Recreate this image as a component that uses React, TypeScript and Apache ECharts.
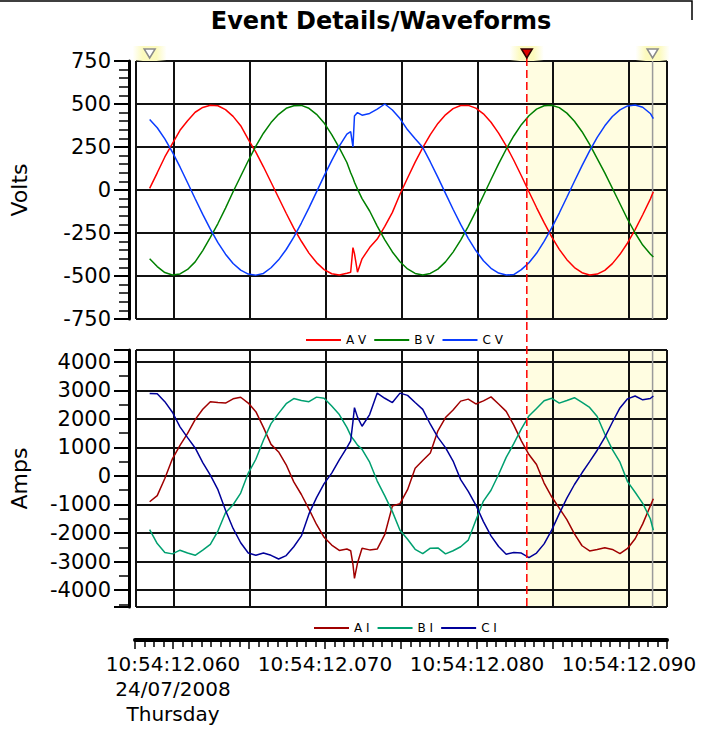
import React, { useEffect, useRef } from "react";
import * as echarts from "echarts";

// time in milliseconds after 10:54:12.000
const times = [
  58.4, 58.9, 59.4, 59.9, 60.4, 60.9, 61.4, 61.9, 62.4, 62.9,
  63.4, 63.9, 64.4, 64.9, 65.4, 65.9, 66.4, 66.9, 67.4, 67.9,
  68.4, 68.9, 69.4, 69.9, 70.4, 70.9, 71.4, 71.65, 71.8, 71.9,
  72.1, 72.4, 72.9, 73.4, 73.9, 74.4, 74.9, 75.4, 75.9, 76.4,
  76.9, 77.4, 77.9, 78.4, 78.9, 79.4, 79.9, 80.4, 80.9, 81.4,
  81.9, 82.4, 82.9, 83.4, 83.9, 84.4, 84.9, 85.4, 85.9, 86.4,
  86.9, 87.4, 87.9, 88.4, 88.9, 89.4, 89.9, 90.4, 90.9, 91.4,
  91.6,
];

const voltsA = [
  9, 100, 192, 270, 347, 403, 452, 480, 493, 490,
  467, 428, 374, 295, 220, 135, 45, -45, -135, -222,
  -298, -367, -422, -463, -487, -494, -484, -478, -335, -370,
  -478, -400, -335, -285, -212, -130, -25, 70, 162, 246,
  322, 387, 437, 473, 491, 492, 476, 443, 394, 331,
  257, 173, 83, -10, -102, -190, -273, -345, -405, -451,
  -481, -494, -489, -467, -428, -374, -308, -230, -144, -53,
  -10,
];
const voltsB = [
  -400, -445, -480, -494, -488, -462, -418, -352, -275, -195,
  -105, -10, 80, 170, 255, 330, 392, 440, 475, 490,
  492, 475, 440, 390, 322, 245, 160, 100, 70, 45,
  5, -50, -122, -210, -290, -360, -417, -459, -485, -494,
  -485, -460, -418, -361, -291, -211, -124, -32, 61, 152,
  237, 314, 380, 432, 470, 490, 493, 479, 447, 400,
  339, 265, 183, 100, 10, -80, -170, -250, -320, -372,
  -390,
];
const voltsC = [
  410, 362, 297, 220, 134, 42, -51, -142, -228, -306,
  -373, -427, -466, -489, -495, -485, -452, -406, -346, -274,
  -192, -104, -11, 82, 171, 255, 325, 340, 250, 430,
  450, 435, 445, 470, 500, 465, 415, 350, 298, 248,
  163, 73, -20, -112, -200, -281, -352, -411, -455, -483,
  -494, -492, -463, -423, -368, -299, -220, -134, -42, 51,
  142, 228, 306, 373, 427, 466, 489, 494, 481, 445,
  415,
];
const ampsA = [
  -905, -690, -90, 600, 1070, 1490, 1970, 2336, 2600, 2570,
  2550, 2700, 2755, 2550, 2250, 1700, 1105, 840, 390, -210,
  -650, -1160, -1700, -2150, -2420, -2610, -2560, -2620, -3100, -3590,
  -3050, -2530, -2590, -2560, -2050, -1050, -970, -480, 270, 540,
  800, 1580, 2044, 2310, 2620, 2690, 2520, 2630, 2770, 2520,
  2260, 1780, 1230, 750, 400, -250, -730, -1130, -1530, -2030,
  -2445, -2625, -2580, -2515, -2575, -2720, -2540, -2200, -1680, -1050,
  -800,
];
const ampsB = [
  -1880, -2370, -2680, -2730, -2600, -2700, -2780, -2600, -2400, -1930,
  -1290, -1010, -600, 100, 584, 1250, 1830, 2190, 2530, 2710,
  2640, 2600, 2760, 2720, 2450, 2150, 1700, 1420, 1300, 1230,
  1080, 930, 480, -180, -700, -1250, -1900, -2220, -2570, -2720,
  -2530, -2520, -2730, -2620, -2480, -2250, -1550, -880, -500, 50,
  650, 1130, 1650, 2100, 2360, 2630, 2720, 2550, 2640, 2740,
  2575, 2400, 2080, 1470, 920, 480, -200, -570, -960, -1500,
  -1900,
];
const ampsC = [
  2885, 2880, 2600, 2230, 1720, 1340, 980, 467, 25, -480,
  -1200, -1840, -2340, -2700, -2780, -2700, -2780, -2910, -2790, -2480,
  -2100, -1330, -760, -270, 100, 560, 990, 1230, 1900, 2390,
  2060, 1740, 2150, 2900, 2720, 2570, 2900, 2820, 2570, 2330,
  1810, 1350, 990, 520, -130, -540, -1020, -1600, -2100, -2470,
  -2740, -2680, -2700, -2860, -2700, -2380, -1900, -1320, -780, -300,
  110, 500, 900, 1350, 1880, 2380, 2700, 2800, 2665, 2710,
  2800,
];

const voltNames = ["A V", "B V", "C V"];
const ampNames = ["A I", "B I", "C I"];
const voltColors = ["#ff0000", "#008000", "#0a3cff"];
const ampColors = ["#a00000", "#00a070", "#000099"];

const voltAxis = { min: -750, max: 750, step: 250 };
const ampAxis = { min: -4590, max: 4410, step: 1000 };
const timeAxis = { min: 57.5, max: 92.5, step: 5 };
const labelTimes = [60, 70, 80, 90];
const clockPrefix = "10:54:12";
const dateText = "24/07/2008";
const dayText = "Thursday";

const startCursor = 58.4;
const cursorTime = 83.26;
const endCursor = 91.55;

const FONT = "DejaVu Sans";

function pairs(values: number[]) {
  return times.map((t, i) => [t, values[i]]);
}

function timeLabel(v: number) {
  const hit = labelTimes.find((t) => Math.abs(t - v) < 1e-6);
  if (hit === undefined) return "";
  const txt = clockPrefix + (hit / 1000).toFixed(3).slice(1);
  if (hit === labelTimes[0]) return txt + "\n" + dateText + "\n" + dayText;
  return txt;
}

export default function App() {
  const ref = useRef<HTMLDivElement>(null);

  useEffect(() => {
    if (!ref.current) return;
    const chart = echarts.init(ref.current, undefined, { renderer: "svg" });

    const gridLine = { show: true, lineStyle: { color: "#111", width: 2 } };
    const plotX = (gridIndex: number) => ({
      type: "value",
      gridIndex,
      min: timeAxis.min,
      max: timeAxis.max,
      minInterval: timeAxis.step,
      maxInterval: timeAxis.step,
      splitNumber: 7,
      axisLine: { show: false },
      axisTick: { show: false },
      axisLabel: { show: false },
      splitLine: gridLine,
    });
    const leftY = (gridIndex: number, ax: any, name: string, minorSplit: number, extra: any) => ({
      type: "value",
      gridIndex,
      min: ax.min,
      max: ax.max,
      ...extra,
      offset: 7,
      name,
      nameLocation: "middle",
      nameRotate: 90,
      nameGap: 99,
      nameTextStyle: { fontSize: 22, color: "#000", fontFamily: FONT },
      axisLine: { show: true, lineStyle: { color: "#000", width: 3 } },
      axisTick: { show: true, length: 15, lineStyle: { color: "#000", width: 2 } },
      minorTick: { show: true, splitNumber: minorSplit, length: 10, lineStyle: { color: "#000", width: 1.5 } },
      axisLabel: {
        fontSize: 21,
        color: "#000",
        margin: 18,
        fontFamily: FONT,
        formatter: (v: number) => String(v),
        showMinLabel: extra.interval ? true : false,
        showMaxLabel: extra.interval ? true : false,
      },
      splitLine: gridLine,
    });

    const lineSeries = (name: string, values: number[], color: string, idx: number) => ({
      type: "line",
      name,
      xAxisIndex: idx,
      yAxisIndex: idx,
      data: pairs(values),
      showSymbol: false,
      symbol: "none",
      lineStyle: { color, width: 1.5 },
      itemStyle: { color },
      z: 3,
    });

    const legendBase = {
      icon: "rect",
      itemWidth: 35,
      itemHeight: 2,
      itemGap: 8,
      textStyle: { fontSize: 12, color: "#000", fontFamily: FONT },
      selectedMode: false,
    };

    chart.setOption({
      animation: false,
      textStyle: { fontFamily: FONT },
      title: {
        text: "Event Details/Waveforms",
        left: 376,
        top: 4,
        textAlign: "center",
        textStyle: { fontSize: 24, fontWeight: "bold", color: "#000", fontFamily: FONT },
      },
      legend: [
        { ...legendBase, data: voltNames, left: 301, top: 329 },
        { ...legendBase, data: ampNames, left: 309, top: 617 },
      ],
      grid: [
        { left: 135, top: 61, width: 532, height: 258 },
        { left: 135, top: 350, width: 532, height: 257 },
        { left: 135, top: 639, width: 532, height: 1 },
      ],
      xAxis: [
        plotX(0),
        plotX(1),
        {
          type: "value",
          gridIndex: 2,
          position: "bottom",
          min: timeAxis.min,
          max: timeAxis.max,
          minInterval: timeAxis.step,
          maxInterval: timeAxis.step,
          splitNumber: 7,
          axisLine: { show: true, lineStyle: { color: "#000", width: 4 } },
          axisTick: { show: true, length: 9, lineStyle: { color: "#000", width: 1.5 } },
          minorTick: { show: true, splitNumber: 8, length: 7, lineStyle: { color: "#000", width: 1.5 } },
          splitLine: { show: false },
          axisLabel: {
            formatter: timeLabel,
            fontSize: 20,
            lineHeight: 25,
            margin: 11,
            color: "#000",
            fontFamily: FONT,
            showMinLabel: false,
            showMaxLabel: false,
          },
        },
      ],
      yAxis: [
        leftY(0, voltAxis, "Volts", 5, { interval: voltAxis.step }),
        leftY(1, ampAxis, "Amps", 2, { minInterval: ampAxis.step, maxInterval: ampAxis.step, splitNumber: 9 }),
        { type: "value", gridIndex: 2, min: 0, max: 1, show: false },
      ],
      series: [
        ...voltNames.map((n, i) => lineSeries(n, [voltsA, voltsB, voltsC][i], voltColors[i], 0)),
        ...ampNames.map((n, i) => lineSeries(n, [ampsA, ampsB, ampsC][i], ampColors[i], 1)),
      ],
    });

    const xOf = (t: number) => chart.convertToPixel({ xAxisIndex: 0 }, t) as number;
    const yV = (v: number) => chart.convertToPixel({ yAxisIndex: 0 }, v) as number;
    const yA = (v: number) => chart.convertToPixel({ yAxisIndex: 1 }, v) as number;
    const plots = [
      { top: yV(voltAxis.max), bottom: yV(voltAxis.min) },
      { top: yA(ampAxis.max), bottom: yA(ampAxis.min) },
    ];
    const xc = xOf(cursorTime);
    const xe = xOf(endCursor);
    const xs = xOf(startCursor);
    const xRight = xOf(timeAxis.max);

    const graphics: any[] = [];
    // page frame edge at the very top
    graphics.push({
      type: "polyline",
      silent: true,
      shape: { points: [[0, 1], [692, 1], [692, 20]] },
      style: { stroke: "#000", lineWidth: 1.5, fill: "none" },
    });
    plots.forEach((p) => {
      graphics.push({
        type: "rect",
        z: -1,
        silent: true,
        shape: { x: xc, y: p.top, width: xRight - xc, height: p.bottom - p.top },
        style: { fill: "#fffde1" },
      });
      graphics.push({
        type: "line",
        z: 1,
        silent: true,
        shape: { x1: xe, y1: p.top, x2: xe, y2: p.bottom },
        style: { stroke: "#9a9a9a", lineWidth: 1.5 },
      });
    });
    const markerTop = plots[0].top - 15;
    [xs, xc, xe].forEach((x, i) => {
      graphics.push({
        type: "rect",
        z: 1,
        silent: true,
        shape: { x: x - 17, y: markerTop, width: 34, height: 15 },
        style: {
          fill: new echarts.graphic.LinearGradient(0, 0, 1, 0, [
            { offset: 0, color: "rgba(252,250,190,0)" },
            { offset: 0.3, color: "rgba(252,250,190,1)" },
            { offset: 0.7, color: "rgba(252,250,190,1)" },
            { offset: 1, color: "rgba(252,250,190,0)" },
          ]),
        },
      });
      const isCursor = i === 1;
      graphics.push({
        type: "polygon",
        z: 6,
        silent: true,
        shape: {
          points: [
            [x - 5.5, markerTop + 3],
            [x + 5.5, markerTop + 3],
            [x, markerTop + 12],
          ],
        },
        style: isCursor
          ? { fill: "#e00000", stroke: "#300000", lineWidth: 1.5 }
          : { fill: "#ffffff", stroke: "#8a8a8a", lineWidth: 1.5 },
      });
    });
    graphics.push({
      type: "line",
      z: 5,
      silent: true,
      shape: { x1: xc, y1: markerTop + 12, x2: xc, y2: plots[1].bottom },
      style: { stroke: "#ff0000", lineWidth: 1.5, lineDash: [8, 4] },
    });

    chart.setOption({ graphic: graphics });

    return () => chart.dispose();
  }, []);

  return (
    <div
      ref={ref}
      style={{ position: "fixed", left: 0, top: 0, width: 704, height: 735, background: "#fff" }}
    />
  );
}
